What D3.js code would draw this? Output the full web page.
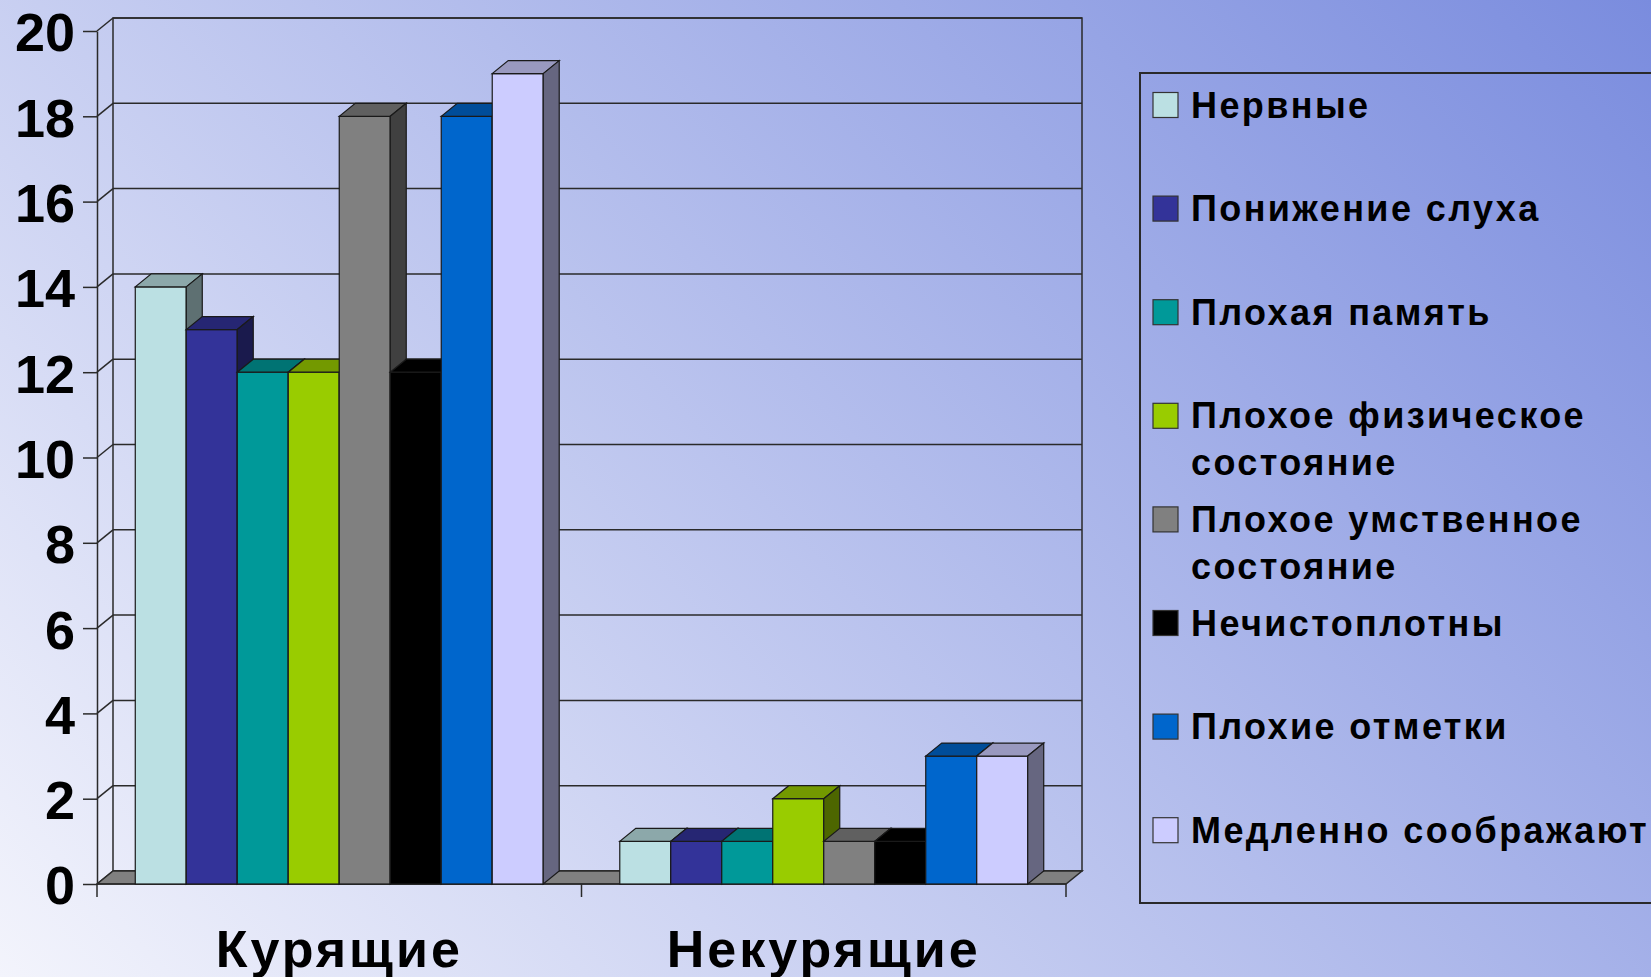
<!DOCTYPE html>
<html><head><meta charset="utf-8">
<script src="https://cdn.jsdelivr.net/npm/d3@7"></script>
<style>html,body{margin:0;padding:0;overflow:hidden;}</style>
</head><body>
<script>
const categories = ["Курящие", "Некурящие"];
const seriesNames = ["Нервные", "Понижение слуха", "Плохая память", "Плохое физическое состояние",
  "Плохое умственное состояние", "Нечистоплотны", "Плохие отметки", "Медленно соображают"];
const legendLines = [["Нервные"], ["Понижение слуха"], ["Плохая память"], ["Плохое физическое", "состояние"],
  ["Плохое умственное", "состояние"], ["Нечистоплотны"], ["Плохие отметки"], ["Медленно соображают"]];
const smokers = [14, 13, 12, 12, 18, 12, 18, 19];
const nonSmokers = [1, 1, 1, 2, 1, 1, 3, 3];
const seriesColors = ["#BBE0E3", "#333399", "#009999", "#99CC00", "#808080", "#000000", "#0066CC", "#CCCCFF"];
const yTicks = [0, 2, 4, 6, 8, 10, 12, 14, 16, 18, 20];

const values = [smokers, nonSmokers];
const W = 1651, H = 977;
const DX = 16, DY = 13;
const FONT = "'Liberation Sans', Arial, sans-serif";

const svg = d3.select("body").append("svg").attr("width", W).attr("height", H);
const defs = svg.append("defs");
const grad = defs.append("linearGradient").attr("id", "bg")
  .attr("gradientUnits", "userSpaceOnUse")
  .attr("x1", 0).attr("y1", 977).attr("x2", 1387).attr("y2", -290);
grad.append("stop").attr("offset", 0).attr("stop-color", "#F3F4FC");
grad.append("stop").attr("offset", 1).attr("stop-color", "#7A8CDE");
svg.append("rect").attr("width", W).attr("height", H).attr("fill", "url(#bg)");

const y = d3.scaleLinear().domain([0, 20]).range([884, 31]);
const x0 = d3.scaleBand().domain(categories).range([97, 1066]).paddingInner(0.158).paddingOuter(0.079);
const x1 = d3.scaleBand().domain(seriesNames).range([0, x0.bandwidth()]);
const left = x0.range()[0], right = x0.range()[1];

const lineCol = "#2a2a2a";
const g = svg.append("g");

// back wall
g.append("rect").attr("x", left + DX).attr("y", y(20) - DY)
  .attr("width", right - left).attr("height", y(0) - y(20))
  .attr("fill", "none").attr("stroke", lineCol).attr("stroke-width", 1.5);
// gridlines on back wall
g.selectAll(".grid").data(yTicks).join("line")
  .attr("x1", left + DX).attr("x2", right + DX)
  .attr("y1", d => y(d) - DY).attr("y2", d => y(d) - DY)
  .attr("stroke", lineCol).attr("stroke-width", 1.5);
// side wall diagonals
g.selectAll(".diag").data(yTicks).join("line")
  .attr("x1", left).attr("x2", left + DX)
  .attr("y1", d => y(d)).attr("y2", d => y(d) - DY)
  .attr("stroke", lineCol).attr("stroke-width", 1.5);
// floor
g.append("polygon")
  .attr("points", [[left, y(0)], [right, y(0)], [right + DX, y(0) - DY], [left + DX, y(0) - DY]].map(p => p.join(",")).join(" "))
  .attr("fill", "#808080").attr("stroke", lineCol).attr("stroke-width", 1.5);

// axis
const ax = svg.append("g").attr("transform", `translate(${left},0)`)
  .call(d3.axisLeft(y).tickValues(yTicks).tickSize(14).tickSizeOuter(0).tickPadding(8));
ax.select(".domain").attr("stroke", lineCol).attr("stroke-width", 1.5);
ax.selectAll(".tick line").attr("stroke", lineCol).attr("stroke-width", 1.5);
ax.selectAll(".tick text").attr("font-family", FONT).attr("font-weight", "bold")
  .attr("font-size", 54).attr("fill", "#000").attr("dy", "0.37em");

// category boundary ticks
const bounds = [left, left + x0.step(), right];
svg.selectAll(".ctick").data(bounds).join("line")
  .attr("x1", d => d).attr("x2", d => d).attr("y1", y(0)).attr("y2", y(0) + 13)
  .attr("stroke", lineCol).attr("stroke-width", 1.5);
svg.append("line").attr("x1", left).attr("x2", right).attr("y1", y(0)).attr("y2", y(0))
  .attr("stroke", lineCol).attr("stroke-width", 1.5);

// bars
function shade(c, k) {
  const r = d3.rgb(c);
  return d3.rgb(r.r * k, r.g * k, r.b * k).formatHex();
}
categories.forEach((cat, ci) => {
  const bg = svg.append("g");
  seriesNames.forEach((s, si) => {
    const v = values[ci][si];
    const xa = x0(cat) + x1(s), xb = xa + x1.bandwidth();
    const yt = y(v), yb = y(0);
    const col = seriesColors[si];
    const st = "#1a1a1a";
    bg.append("rect").attr("x", xa).attr("y", yt).attr("width", xb - xa).attr("height", yb - yt)
      .attr("fill", col).attr("stroke", st).attr("stroke-width", 1.2);
    bg.append("polygon")
      .attr("points", [[xa, yt], [xb, yt], [xb + DX, yt - DY], [xa + DX, yt - DY]].map(p => p.join(",")).join(" "))
      .attr("fill", shade(col, 0.75)).attr("stroke", st).attr("stroke-width", 1.2);
    bg.append("polygon")
      .attr("points", [[xb, yt], [xb + DX, yt - DY], [xb + DX, yb - DY], [xb, yb]].map(p => p.join(",")).join(" "))
      .attr("fill", shade(col, 0.5)).attr("stroke", st).attr("stroke-width", 1.2);
  });
});

// category labels
svg.selectAll(".clab").data(categories).join("text")
  .attr("x", d => x0(d) + x0.bandwidth() / 2).attr("y", 967)
  .attr("text-anchor", "middle").attr("font-family", FONT).attr("font-weight", "bold")
  .attr("font-size", 52).attr("letter-spacing", 3).attr("fill", "#000").text(d => d);

// legend
const lg = svg.append("g");
lg.append("rect").attr("x", 1140).attr("y", 73).attr("width", 600).attr("height", 830)
  .attr("fill", "none").attr("stroke", lineCol).attr("stroke-width", 2);
seriesNames.forEach((s, i) => {
  const cy = 105 + i * 103.6;
  lg.append("rect").attr("x", 1153).attr("y", cy - 12.5).attr("width", 25).attr("height", 25)
    .attr("fill", seriesColors[i]).attr("stroke", "#333").attr("stroke-width", 1.2);
  const t = lg.append("text").attr("font-family", FONT).attr("font-weight", "bold")
    .attr("font-size", 36).attr("letter-spacing", 2.4).attr("fill", "#000");
  legendLines[i].forEach((ln, li) => {
    t.append("tspan").attr("x", 1191).attr("y", cy + 12.5 + li * 47).text(ln);
  });
});
</script>
</body></html>
